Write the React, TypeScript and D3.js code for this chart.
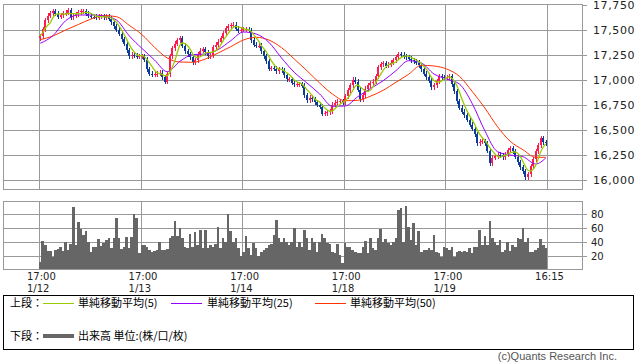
import React from 'react'
import * as d3 from 'd3'

// 30-minute bars, 1/12 17:00 -> 1/19 16:15
const closes = [
  17440, 17510, 17600, 17645, 17670, 17690, 17665, 17635, 17650, 17668, 17675, 17700, 17630, 17645, 17660, 17680, 17690, 17690, 17665, 17645,
  17635, 17632, 17627, 17633, 17636, 17630, 17635, 17615, 17580, 17540, 17505, 17465, 17410, 17365, 17300, 17240, 17255, 17245, 17235, 17240,
  17240, 17205, 17110, 17065, 17055, 17058, 17065, 17075, 17030, 16985, 17060, 17240, 17320, 17365, 17400, 17420, 17345, 17290, 17260, 17230,
  17180, 17200, 17260, 17295, 17310, 17280, 17240, 17250, 17330, 17355, 17385, 17420, 17470, 17520, 17540, 17550, 17555, 17512, 17495, 17505,
  17510, 17510, 17498, 17400, 17355, 17343, 17343, 17290, 17240, 17190, 17115, 17120, 17115, 17090, 17108, 17098, 17050, 17010, 17010, 16975,
  16960, 16960, 16960, 16945, 16850, 16800, 16825, 16810, 16780, 16755, 16735, 16665, 16670, 16677, 16690, 16755, 16772, 16785, 16790, 16778,
  16840, 16900, 16950, 17005, 16985, 16905, 16810, 16850, 16915, 16950, 16970, 16985, 17040, 17130, 17160, 17170, 17145, 17155, 17175, 17200,
  17227, 17260, 17255, 17238, 17227, 17212, 17200, 17188, 17175, 17148, 17110, 17065, 17030, 16995, 16930, 16950, 16990, 17040, 17030, 17027,
  17030, 17040, 16960, 16890, 16790, 16725, 16685, 16650, 16605, 16555, 16515, 16460, 16370, 16385, 16390, 16370, 16295, 16170, 16225, 16240,
  16255, 16250, 16228, 16255, 16300, 16320, 16290, 16235, 16180, 16130, 16090, 16030, 16060, 16140, 16210, 16290, 16350, 16420, 16380, 16367,
]
const firstOpen = 17420

const volumes = [
  12, 41, 36, 27, 27, 19, 29, 30, 33, 27, 40, 28, 37, 90, 36, 68, 58, 50, 55, 40,
  26, 33, 33, 44, 34, 38, 43, 45, 31, 46, 74, 45, 30, 33, 47, 32, 47, 80, 74, 24,
  36, 35, 33, 28, 26, 27, 29, 40, 29, 28, 30, 45, 48, 70, 48, 60, 45, 33, 31, 52,
  33, 54, 36, 57, 31, 57, 31, 36, 33, 37, 62, 31, 45, 40, 80, 55, 40, 45, 31, 20,
  26, 48, 31, 22, 38, 31, 20, 25, 29, 31, 36, 37, 50, 71, 45, 40, 46, 40, 36, 40,
  60, 33, 40, 33, 57, 46, 29, 45, 40, 26, 40, 51, 45, 38, 37, 26, 24, 37, 22, 10,
  38, 33, 33, 29, 25, 24, 24, 33, 41, 24, 46, 31, 29, 45, 58, 40, 44, 38, 36, 40,
  46, 86, 89, 40, 92, 62, 43, 67, 36, 55, 26, 29, 29, 31, 29, 50, 26, 24, 19, 33,
  31, 29, 33, 19, 26, 27, 25, 27, 25, 31, 24, 33, 33, 57, 36, 49, 36, 70, 46, 40,
  36, 43, 26, 29, 40, 27, 36, 33, 45, 44, 60, 40, 45, 25, 26, 29, 31, 44, 35, 32,
]

// moving averages at these bar positions
const maIndex = [0, 5, 10, 15, 20, 25, 30, 35, 40, 45, 50, 55, 60, 65, 70, 75, 80, 85, 90, 95, 100,
  105, 110, 115, 120, 125, 130, 135, 140, 145, 150, 155, 160, 165, 170, 175, 180, 185, 190, 195, 199]
const ma25 = [17367, 17443, 17593, 17650, 17650, 17640, 17600, 17443, 17317, 17200, 17083, 17187, 17253, 17260, 17303, 17393, 17480, 17460, 17377, 17220, 17077,
  16970, 16860, 16737, 16740, 16833, 16915, 16993, 17093, 17193, 17170, 17060, 17010, 16960, 16767, 16493, 16283, 16250, 16233, 16160, 16220]
const ma50 = [17403, 17440, 17500, 17555, 17610, 17645, 17633, 17547, 17455, 17327, 17220, 17180, 17177, 17210, 17270, 17333, 17400, 17427, 17400, 17323, 17210,
  17093, 16970, 16860, 16793, 16797, 16838, 16897, 16977, 17057, 17147, 17140, 17110, 17037, 16887, 16720, 16533, 16387, 16303, 16227, 16227]

const priceTicks = [16000, 16250, 16500, 16750, 17000, 17250, 17500, 17750]
const volTicks = [20, 40, 60, 80]
const dayLines = [0, 40, 80, 120, 160, 200]
const timeLabels = ['17:00', '17:00', '17:00', '17:00', '17:00', '16:15']
const dateLabels = ['1/12', '1/13', '1/14', '1/18', '1/19', '']

const UP = '#ff1a4f'
const DOWN = '#0d3b9c'
const GRID = '#999999'
const NUM_FONT = 'DejaVu Sans, sans-serif'
const JP_FONT = '"Noto Sans CJK JP", sans-serif'

const App = () => {
  const x = d3.scaleLinear().domain([-14.15, 214.15]).range([3, 583])
  const y = d3.scaleLinear().domain([15900, 17750]).range([190, 5])
  const yv = d3.scaleLinear().domain([0, 97.14]).range([270, 202])
  const px = (v: number) => Math.round(v) + 0.5

  const opens = closes.map((c, i) => (i === 0 ? firstOpen : closes[i - 1]))
  const ma5 = closes.map((c, i) => d3.mean(closes.slice(Math.max(0, i - 4), i + 1)) as number)

  const line = d3.line<[number, number]>()
    .x(d => x(d[0] + 0.5))
    .y(d => y(d[1]))
    .curve(d3.curveMonotoneX)

  const ma5Path = line(ma5.map((v, i) => [i, v]))
  const ma25Path = line(maIndex.map((idx, k) => [idx, ma25[k]]))
  const ma50Path = line(maIndex.map((idx, k) => [idx, ma50[k]]))

  return (
    <svg width={638} height={362} style={{ position: 'absolute', left: 0, top: 0, background: '#fff' }}>
      {/* price panel grid */}
      {priceTicks.slice(0, -1).map(t => (
        <line key={'pg' + t} x1={3} x2={583} y1={px(y(t))} y2={px(y(t))} stroke={GRID} />
      ))}
      {dayLines.map(d => (
        <line key={'pv' + d} x1={px(x(d))} x2={px(x(d))} y1={5} y2={190} stroke={GRID} />
      ))}
      <rect x={3.5} y={4.5} width={579} height={185} fill="none" stroke={GRID} />
      {priceTicks.map(t => (
        <g key={'pl' + t}>
          <line x1={583} x2={587} y1={px(y(t))} y2={px(y(t))} stroke={GRID} />
          <text x={593} y={y(t) + 4} fontSize={11} letterSpacing={0.6} fontFamily={NUM_FONT} fill="#222">
            {d3.format(',')(t)}
          </text>
        </g>
      ))}

      {/* candles */}
      <g shapeRendering="crispEdges">
        {closes.map((c, i) => {
          const o = opens[i]
          const up = c >= o
          const cx = Math.round(x(i + 0.5))
          const top = y(Math.max(o, c))
          const bot = y(Math.min(o, c))
          return (
            <g key={'c' + i} fill={up ? UP : DOWN} stroke="none">
              <rect x={cx} y={top - 2.5} width={1} height={bot - top + 5} />
              <rect x={cx - 1} y={top} width={2} height={Math.max(1, bot - top)} />
            </g>
          )
        })}
      </g>

      <path d={ma50Path || ''} fill="none" stroke="#ff3300" strokeWidth={1} />
      <path d={ma25Path || ''} fill="none" stroke="#9900ff" strokeWidth={1} />
      <path d={ma5Path || ''} fill="none" stroke="#99cc00" strokeWidth={1.3} />

      {/* volume panel */}
      {volTicks.map(t => (
        <line key={'vg' + t} x1={3} x2={583} y1={px(yv(t))} y2={px(yv(t))} stroke={GRID} />
      ))}
      {dayLines.map(d => (
        <line key={'vv' + d} x1={px(x(d))} x2={px(x(d))} y1={202} y2={270} stroke={GRID} />
      ))}
      <g shapeRendering="crispEdges" fill="#666666">
        {volumes.map((v, i) => (
          <rect key={'v' + i} x={x(i)} y={yv(v)} width={x(i + 1) - x(i)} height={yv(0) - yv(v)} />
        ))}
      </g>
      <rect x={3.5} y={201.5} width={579} height={68} fill="none" stroke={GRID} />
      {volTicks.map(t => (
        <g key={'vl' + t}>
          <line x1={583} x2={587} y1={px(yv(t))} y2={px(yv(t))} stroke={GRID} />
          <text x={591} y={yv(t) + 4} fontSize={10} fontFamily={NUM_FONT} fill="#222">{t}</text>
        </g>
      ))}

      {/* x axis labels */}
      {dayLines.map((d, k) => (
        <g key={'xl' + d} fontFamily={NUM_FONT} fontSize={10} fill="#222">
          <text x={x(d) - 12} y={280}>{timeLabels[k]}</text>
          <text x={x(d) - 12} y={292}>{dateLabels[k]}</text>
        </g>
      ))}

      {/* legend */}
      <rect x={3.5} y={295.5} width={630} height={54} fill="none" stroke="#000" />
      <g fontFamily={JP_FONT} fontSize={11} fill="#000">
        <text x={10} y={307}>上段：</text>
        <line x1={43} x2={74} y1={303.5} y2={303.5} stroke="#99cc00" />
        <text x={78} y={307}>単純移動平均(5)</text>
        <line x1={171} x2={202} y1={303.5} y2={303.5} stroke="#9900ff" />
        <text x={207} y={307}>単純移動平均(25)</text>
        <line x1={315} x2={346} y1={303.5} y2={303.5} stroke="#ff3300" />
        <text x={350} y={307}>単純移動平均(50)</text>
        <text x={10} y={340}>下段：</text>
        <line x1={43} x2={74} y1={336} y2={336} stroke="#666666" strokeWidth={4} />
        <text x={78} y={340}>出来高 単位:(株/口/枚)</text>
      </g>
      <text x={617} y={360} textAnchor="end" fontSize={11} fontFamily="Liberation Sans, sans-serif" fill="#555">
        (c)Quants Research Inc.
      </text>
    </svg>
  )
}

export default App
